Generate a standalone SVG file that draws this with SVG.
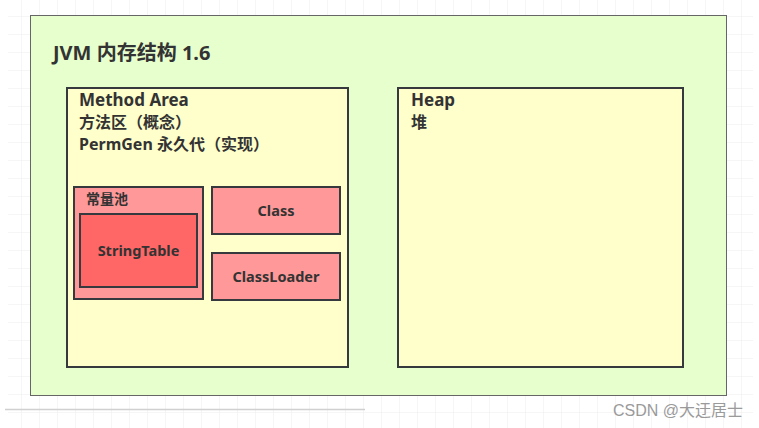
<svg xmlns="http://www.w3.org/2000/svg" width="759" height="428" viewBox="0 0 759 428">
<defs>
<pattern id="grid" x="4" y="-1" width="18" height="18" patternUnits="userSpaceOnUse">
<path d="M18 0V18M0 18H18" fill="none" stroke="#ececec" stroke-width="1"/>
</pattern>
<style>
.t{font-family:"Noto Sans","Open Sans","Noto Sans CJK SC",sans-serif;font-weight:bold;fill:#333333}
.box{stroke:#36393d;stroke-width:2}
</style>
</defs>
<rect x="0" y="0" width="759" height="428" fill="#ffffff"/>
<rect x="8" y="0" width="745" height="428" fill="url(#grid)"/>
<line x1="5" y1="409.5" x2="365" y2="409.5" stroke="#d0d0d0" stroke-width="1.5"/>
<g id="jvm">
<rect x="30.5" y="15.5" width="696" height="380" fill="#e6ffcc" stroke="#666666" stroke-width="1"/>
<text class="t" x="53" y="60" font-size="20">JVM 内存结构 1.6</text>
</g>
<g id="method-area">
<rect class="box" x="67" y="88" width="281" height="279" fill="#ffffcc"/>
<text class="t" x="79" y="106" font-size="17">Method Area</text>
<text class="t" x="79" y="128" font-size="16">方法区（概念）</text>
<text class="t" x="79" y="150" font-size="16">PermGen 永久代（实现）</text>
</g>
<g id="heap">
<rect class="box" x="398" y="88" width="285" height="279" fill="#ffffcc"/>
<text class="t" x="411" y="106" font-size="17">Heap</text>
<text class="t" x="411" y="128" font-size="16">堆</text>
</g>
<g id="constant-pool">
<rect class="box" x="74" y="187" width="129" height="112" fill="#ff9999"/>
<text class="t" x="86" y="204" font-size="14">常量池</text>
</g>
<g id="stringtable">
<rect class="box" x="80" y="214" width="117" height="73" fill="#ff6666"/>
<text class="t" x="138.5" y="256" font-size="14.5" text-anchor="middle">StringTable</text>
</g>
<g id="class">
<rect class="box" x="212" y="187" width="128" height="47" fill="#ff9999"/>
<text class="t" x="276" y="216" font-size="14.5" text-anchor="middle">Class</text>
</g>
<g id="classloader">
<rect class="box" x="212" y="253" width="128" height="47" fill="#ff9999"/>
<text class="t" x="276" y="282" font-size="14.5" text-anchor="middle">ClassLoader</text>
</g>
<g id="connectors"></g>
<text x="743" y="416" font-family="'Liberation Sans','Noto Sans CJK SC',sans-serif" font-size="16" fill="#9a9a9a" text-anchor="end">CSDN @大迂居士</text>
</svg>
